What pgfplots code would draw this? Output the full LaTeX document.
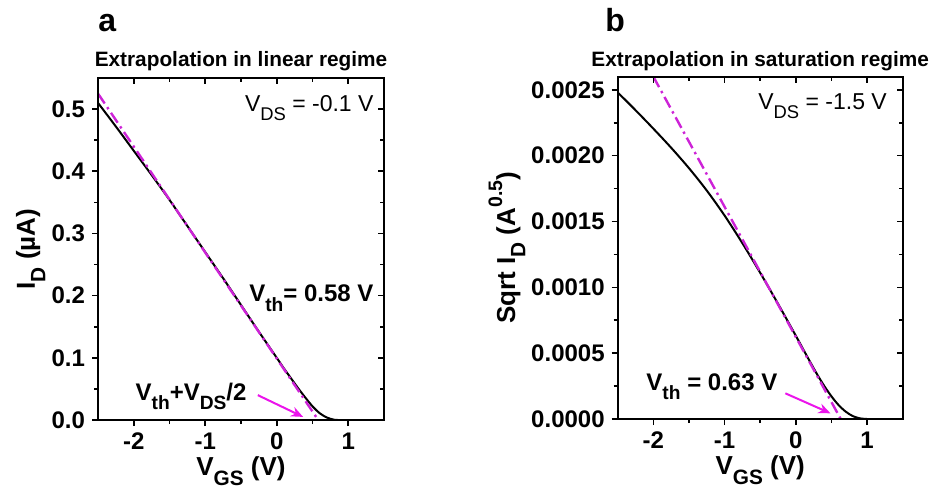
\documentclass[border=0pt]{standalone}
\usepackage{fontspec}
\setmainfont{Liberation Sans}
\usepackage{graphicx}
\usepackage{pgfplots}
\pgfplotsset{compat=1.18}
\usetikzlibrary{arrows.meta}
\definecolor{fitmag}{RGB}{205,35,215}
\definecolor{arrmag}{RGB}{235,20,235}
\newcommand\sub[1]{\raisebox{-0.4em}{\scalebox{0.8}{#1}}}
\newcommand\sups[1]{\raisebox{0.5em}{\scalebox{0.75}{#1}}}
\tikzset{
 fitline/.style={fitmag, line width=1.2pt, dash pattern=on 6pt off 2.2pt on 1.2pt off 2.2pt},
 datline/.style={black, line width=1pt, smooth},
 arr/.style={arrmag, line width=1pt, -{Stealth[length=6pt,width=5pt]}},
 bfann/.style={inner sep=0pt, font=\fontsize{12}{14}\selectfont\bfseries},
 ann/.style={inner sep=0pt},
}
\pgfplotsset{
 common/.style={scale only axis, width=143pt, height=171pt, xmin=-2.5, xmax=1.5,
   xtick={-2,-1,0,1}, minor x tick num=1, minor y tick num=1,
   axis line style={line width=1pt}, scaled y ticks=false,
   every tick/.style={black, line width=0.8pt},
   major tick length=3pt, minor tick length=2pt, clip mode=individual},
 mainax/.style={common, tick align=outside, xtick pos=left, ytick pos=left,
   tick label style={font=\fontsize{12}{14}\selectfont\bfseries},
   /pgf/number format/assume math mode=true},
 overax/.style={common, tick align=inside, xtick pos=right, ytick pos=right,
   xticklabels={}, yticklabels={}},
}
\begin{document}
\begin{tikzpicture}
\useasboundingbox (0,0) rectangle (467.5pt,-244pt);
% ---------------- panel a
\begin{axis}[mainax, at={(49pt,-210pt)}, anchor=south west, ymin=0, ymax=0.55,
  ytick={0,0.1,0.2,0.3,0.4,0.5},
  yticklabel style={/pgf/number format/.cd,fixed,fixed zerofill,precision=1}]
\addplot[datline] coordinates {
(-2.5,0.510) (-2.25,0.472) (-2.0,0.433) (-1.75,0.394) (-1.5,0.354) (-1.25,0.312)
(-1.0,0.270) (-0.75,0.228) (-0.5,0.185) (-0.25,0.142) (0.0,0.100) (0.1,0.083)
(0.2,0.067) (0.3,0.051) (0.4,0.036) (0.5,0.022) (0.6,0.011) (0.7,0.004)
(0.8,0.0005) (0.86,0.0)};
\addplot[fitline] coordinates {(-2.5,0.525) (0.58,0)};
\draw[arr] (axis cs:-0.265,0.040) -- (axis cs:0.369,0.005);
\node[ann, anchor=base east, font=\fontsize{11.5}{13}\selectfont] at (axis cs:1.359,0.496) {V\sub{DS} = -0.1 V};
\node[anchor=base east, bfann] at (axis cs:1.359,0.190) {V\sub{th}= 0.58 V};
\node[anchor=base west, bfann] at (axis cs:-1.979,0.032) {V\sub{th}+V\sub{DS}/2};
\node[ann, anchor=base, font=\fontsize{10.4}{12}\selectfont\bfseries] at ([yshift=5.65pt]rel axis cs:0.5,1) {Extrapolation in linear regime};
\node[ann, anchor=base west, font=\fontsize{16}{18}\selectfont\bfseries] at ([yshift=23.15pt]rel axis cs:0,1) {a};
\node[ann, rotate=90, anchor=base, font=\fontsize{13}{15}\selectfont\bfseries] at ([xshift=-31.5pt]rel axis cs:0,0.5) {I\sub{D} (µA)};
\node[ann, anchor=base, font=\fontsize{13}{15}\selectfont\bfseries] at ([yshift=-27.5pt]rel axis cs:0.5,0) {V\sub{GS} (V)};
\end{axis}
\begin{axis}[overax, at={(49pt,-210pt)}, anchor=south west, ymin=0, ymax=0.55,
  ytick={0,0.1,0.2,0.3,0.4,0.5}]
\end{axis}
% ---------------- panel b
\begin{axis}[mainax, at={(308.85pt,-209.5pt)}, anchor=south west, width=142.5pt, height=171.2pt,
  ymin=0, ymax=0.0026, ytick={0,0.0005,0.001,0.0015,0.002,0.0025},
  yticklabel style={/pgf/number format/.cd,fixed,fixed zerofill,precision=4}]
\addplot[datline] coordinates {
(-2.5,0.002480) (-2.25,0.002345) (-2.0,0.002205) (-1.75,0.002060) (-1.5,0.001905)
(-1.25,0.001735) (-1.0,0.001545) (-0.75,0.001335) (-0.5,0.001110) (-0.25,0.000875)
(0.0,0.000632) (0.1,0.000533) (0.2,0.000434) (0.3,0.000338) (0.4,0.000250)
(0.5,0.000172) (0.6,0.000106) (0.7,0.000056) (0.8,0.000022) (0.9,0.000005) (1.0,0.0)};
\addplot[fitline] coordinates {(-2.0,0.0026) (0.63,0)};
\draw[arr] (axis cs:-0.147,0.000195) -- (axis cs:0.486,0.0000433);
\node[ann, anchor=base east, font=\fontsize{11.5}{13}\selectfont] at (axis cs:1.283,0.002348) {V\sub{DS} = -1.5 V};
\node[anchor=base west, bfann] at (axis cs:-2.102,0.00022) {V\sub{th} = 0.63 V};
\node[ann, anchor=base, font=\fontsize{10.4}{12}\selectfont\bfseries] at ([yshift=5pt]rel axis cs:0.5,1) {Extrapolation in saturation regime};
\node[ann, anchor=base west, font=\fontsize{16}{18}\selectfont\bfseries] at ([xshift=-6.35pt,yshift=22.5pt]rel axis cs:0,1) {b};
\node[ann, rotate=90, anchor=base, font=\fontsize{13}{15}\selectfont\bfseries] at ([xshift=-51.35pt]rel axis cs:0,0.5) {Sqrt I\sub{D} (A\sups{0.5})};
\node[ann, anchor=base, font=\fontsize{13}{15}\selectfont\bfseries] at ([yshift=-27.5pt]rel axis cs:0.5,0) {V\sub{GS} (V)};
\end{axis}
\begin{axis}[overax, at={(308.85pt,-209.5pt)}, anchor=south west, width=142.5pt, height=171.2pt,
  ymin=0, ymax=0.0026, ytick={0,0.0005,0.001,0.0015,0.002,0.0025}]
\end{axis}
\end{tikzpicture}
\end{document}
